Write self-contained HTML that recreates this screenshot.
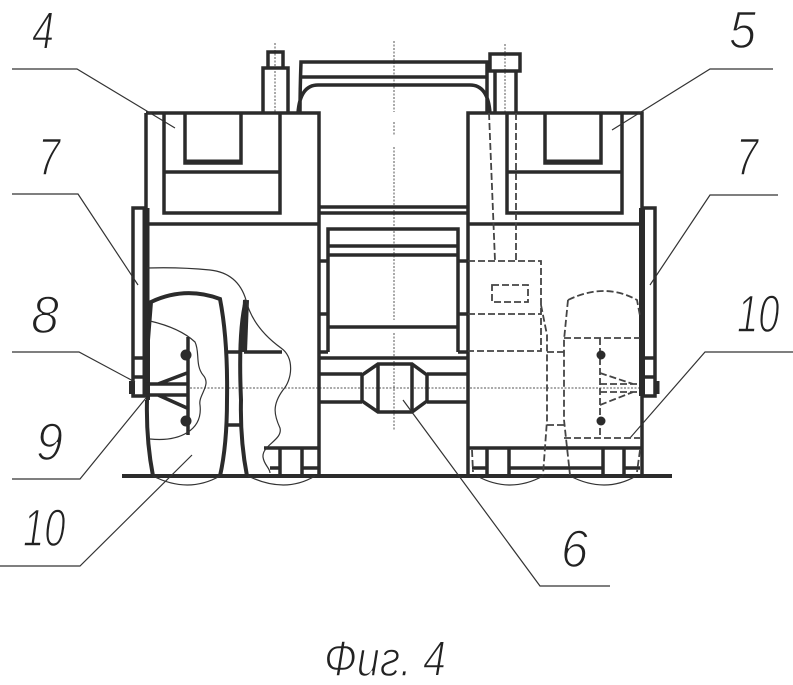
<!DOCTYPE html>
<html><head><meta charset="utf-8"><style>
html,body{margin:0;padding:0;background:#fff}
svg{display:block}
text{font-family:"Liberation Sans",sans-serif;font-style:italic;fill:#222;stroke:#fff;stroke-width:1.5px;paint-order:fill stroke}
</style></head><body>
<svg width="793" height="685" viewBox="0 0 793 685" xmlns="http://www.w3.org/2000/svg">
<rect width="793" height="685" fill="#fff"/>
<!-- centre lines -->
<g fill="none" stroke="#555" stroke-width="1" stroke-dasharray="2 1.5">
<path d="M394 41V112M394 122V136M394 147V320M394 333V430"/>
<path d="M275 43V112M505 44V112"/>
<path d="M190 388H640"/>
</g>
<!-- main solid -->
<g fill="none" stroke="#2b2b2b" stroke-width="3.5">
<path d="M146 113H319V476M146 113V300"/>
<path d="M146 224H319"/>
<path d="M164 113V213H280V113M164 172H280"/>
<path d="M185 113V163H241V113" />
<path d="M185 162H241" stroke-width="5"/>
<path d="M263 113V68H288V113M268 68V52H283V68"/>
<path d="M300 113Q300 90 301 62H487V113M301 77H487M298 113Q300 85 318 85H470Q488 85 490 113"/>
<path d="M490 54H520V71H490ZM495 71V113M516 71V113"/>
<path d="M468 476V113H642V476M468 224H642"/>
<path d="M507 113V213H622V113M507 172H622"/>
<path d="M545 113V163H601V113"/>
<path d="M545 162H601" stroke-width="5"/>
<path d="M319 207H468M319 213H468"/>
<path d="M328 352V229H458V352M328 246H458M328 255H458M328 327H458"/>
<path d="M319 261H328M319 314H328M319 352H328M458 261H468M458 314H468M458 352H468"/>
<path d="M319 358H468"/>
<path d="M319 374H362M319 402H362M427 374H468M427 402H468"/>
<path d="M362 375V401L378 412H412L427 401V375L412 364H378ZM378 364V412M412 364V412"/>
<!-- left side plate -->
<path d="M145 208H133V396H146M133 358H146M133 377H146"/>
<path d="M146 208V396" stroke-width="7"/>
<path d="M132 381V394" stroke-width="6"/>
<!-- right side plate -->
<path d="M643 208H655V396H642M642 358H655M642 377H655"/>
<path d="M642 208V396" stroke-width="6"/>
<path d="M657 381V394" stroke-width="5"/>
<!-- left wheel -->
<path d="M147 400Q146 440 153 476M148 400V340L151 302Q185 286 220 299Q228 340 227 400Q227 445 220 476" stroke-width="4"/>
<path d="M246 300Q238 330 241 400Q240 440 247 476" stroke-width="4"/>
<path d="M246 300L244 352" stroke-width="6"/>
<path d="M244 352H282M226 352H241M228 425H241"/>
<!-- left hub -->
<path d="M146 384H187M146 395H187M188 337V435M158 384L187 373M158 395L187 408" />
<circle cx="186" cy="355" r="5.5" fill="#2b2b2b" stroke="none"/>
<circle cx="186" cy="421" r="5.5" fill="#2b2b2b" stroke="none"/>
<!-- bottoms -->
<path d="M264 448H319M280 448V475M302 448V475M270 468H280M302 468H319"/>
<path d="M468 448H642M487 448V475M509 448V475M603 448V475M624 448V475M472 468H487M509 468H603M624 468H640"/>
<path d="M122 476H672" stroke-width="4"/>
</g>
<!-- thin lines -->
<g fill="none" stroke="#333" stroke-width="1.2">
<path d="M147 268Q180 267 210 270Q238 273 246 300C252 325 270 340 281 348C295 358 292 380 283 390C272 405 274 415 280 428C283 440 262 445 263 457C264 465 270 468 270 473"/>
<path d="M150 321Q180 328 195 342C200 352 195 365 203 375C212 385 198 395 200 405C203 430 180 442 150 439"/>
<path d="M153 476Q188 494 220 476M248 476Q285 494 315 476M477 476Q510 494 543 476M570 476Q605 494 636 476"/>
<path d="M12 69H77L175 128M773 69H710L612 130M12 194H78L138 285M778 195H710L650 285M12 352H79L135 382M146 398L80 479H12M192 455L80 566H0M403 400L540 586H610M630 438L705 352H793"/>
</g>
<!-- dashed hidden -->
<g fill="none" stroke="#444" stroke-width="1.8" stroke-dasharray="7 3">
<path d="M489 113L495 261M516 113V261M468 261H541V351H468M468 314H541"/>
<path d="M492 285H528V302H492Z"/>
<path d="M541 305L547 335V420L543 475M568 300Q605 282 637 300L640 316M568 300L564 340V420L570 475"/>
<path d="M547 352H564M547 425H564M564 338H640M564 438H640M600 338V438"/>
<path d="M600 384H640M600 392H640M600 373L633 384M600 405L633 392"/>
<path d="M472 450L473 472M640 450L637 472"/>
</g>
<circle cx="601" cy="355" r="4.5" fill="#2b2b2b"/>
<circle cx="601" cy="421" r="4.5" fill="#2b2b2b"/>
<!-- labels -->
<g font-size="53">
<text transform="translate(32,49) scale(.75,1)">4</text>
<text transform="translate(729,48) scale(.92,1)">5</text>
<text transform="translate(38,175) scale(.75,1)">7</text>
<text transform="translate(736,175) scale(.75,1)">7</text>
<text transform="translate(31,333) scale(.95,1)">8</text>
<text transform="translate(737,332) scale(.72,1)">10</text>
<text transform="translate(36,460) scale(.92,1)">9</text>
<text transform="translate(23,546) scale(.72,1)">10</text>
<text transform="translate(561,567) scale(.92,1)">6</text>
</g>
<text x="324" y="676" font-size="50" textLength="122" lengthAdjust="spacingAndGlyphs">Фиг. 4</text>
</svg>
</body></html>
